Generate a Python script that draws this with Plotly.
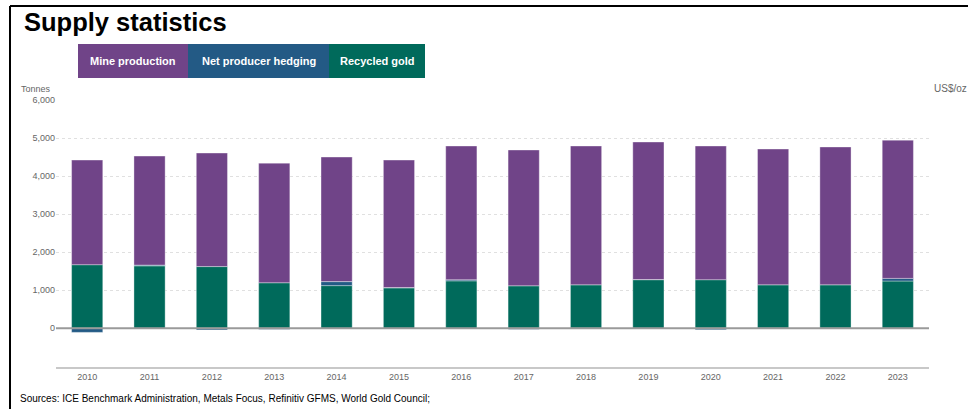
import plotly.graph_objects as go

# Gold supply by component, tonnes
years = ["2010", "2011", "2012", "2013", "2014", "2015", "2016",
         "2017", "2018", "2019", "2020", "2021", "2022", "2023"]
mine_production = [2750, 2865, 2985, 3145, 3275, 3350, 3515,
                   3570, 3650, 3615, 3515, 3570, 3625, 3635]
net_hedging = [-110, 20, -45, -30, 105, 10, 30,
               -30, -10, 5, -40, -10, -10, 70]
recycled_gold = [1670, 1640, 1620, 1195, 1120, 1060, 1245,
                 1115, 1140, 1275, 1275, 1140, 1140, 1240]

series_names = ["Mine production", "Net producer hedging", "Recycled gold"]
series_colors = ["#704488", "#235A85", "#006A5B"]
y_ticks = [0, 1000, 2000, 3000, 4000, 5000, 6000]

W, H = 968, 409
L, R, T, B = 56, 39, 100, 42
PW, PH = W - L - R, H - T - B


def px(x):
    return (x - L) / PW


def py(y):
    return (H - B - y) / PH


fig = go.Figure()
# stacking order from the base upward: recycled, hedging, mine
for name, vals, color in [
    (series_names[2], recycled_gold, series_colors[2]),
    (series_names[1], net_hedging, series_colors[1]),
    (series_names[0], mine_production, series_colors[0]),
]:
    fig.add_trace(go.Bar(
        x=years, y=vals, name=name,
        marker=dict(color=color, line=dict(color="rgba(255,255,255,0.35)", width=1)),
        showlegend=False,
    ))

shapes = []
annotations = []

# legend boxes with white labels
legend_boxes = [(78, 188), (188, 329), (329, 425)]
for (x0, x1), name, color in zip(legend_boxes, series_names, series_colors):
    shapes.append(dict(type="rect", xref="paper", yref="paper",
                       x0=px(x0), x1=px(x1), y0=py(78), y1=py(44),
                       fillcolor=color, line=dict(width=0), layer="above"))
    annotations.append(dict(xref="paper", yref="paper", x=px((x0 + x1) / 2), y=py(61),
                            text=f"<b>{name}</b>", showarrow=False,
                            xanchor="center", yanchor="middle",
                            font=dict(family="Liberation Sans, Arial, sans-serif",
                                      size=11, color="white")))

# outer frame: top and left rules
shapes.append(dict(type="line", xref="paper", yref="paper",
                   x0=px(10), x1=px(968), y0=py(6), y1=py(6),
                   line=dict(color="black", width=2)))
shapes.append(dict(type="line", xref="paper", yref="paper",
                   x0=px(10), x1=px(10), y0=py(6), y1=py(409),
                   line=dict(color="black", width=2)))

# zero baseline
shapes.append(dict(type="line", xref="paper", yref="y",
                   x0=0, x1=1, y0=0, y1=0,
                   line=dict(color="#9a9a9a", width=2), layer="above"))

annotations += [
    dict(xref="paper", yref="paper", x=px(22), y=py(22), text="<b>Supply statistics</b>",
         showarrow=False, xanchor="left", yanchor="middle",
         font=dict(family="Liberation Sans, Arial, sans-serif", size=25.5, color="black")),
    dict(xref="paper", yref="paper", x=px(53), y=py(89), text="Tonnes",
         showarrow=False, xanchor="right", yanchor="middle",
         font=dict(family="Liberation Sans, Arial, sans-serif", size=9, color="#666")),
    dict(xref="paper", yref="paper", x=px(932), y=py(89), text="US$/oz",
         showarrow=False, xanchor="left", yanchor="middle",
         font=dict(family="Liberation Sans, Arial, sans-serif", size=10, color="#666")),
    dict(xref="paper", yref="paper", x=px(18), y=py(398),
         text="Sources: ICE Benchmark Administration, Metals Focus, Refinitiv GFMS, World Gold Council;",
         showarrow=False, xanchor="left", yanchor="middle",
         font=dict(family="Liberation Sans, Arial, sans-serif", size=10, color="black")),
]

fig.update_layout(
    width=W, height=H,
    margin=dict(l=L, r=R, t=T, b=B),
    paper_bgcolor="white", plot_bgcolor="white",
    barmode="relative", bargap=0.5,
    shapes=shapes, annotations=annotations,
    xaxis=dict(type="category", showgrid=False, showline=True, linecolor="#c8c8c8",
               linewidth=2, ticks="", ticklen=0,
               tickfont=dict(family="Liberation Sans, Arial, sans-serif",
                             size=9, color="#666")),
    yaxis=dict(range=[-1020, 6000], tickvals=y_ticks, tickformat=",",
               showgrid=True, gridcolor="#e0e0e0", griddash="dot", gridwidth=1,
               zeroline=False, showline=False, ticks="",
               tickfont=dict(family="Liberation Sans, Arial, sans-serif", size=9, color="#666")),
)

fig.write_html("out.html")
